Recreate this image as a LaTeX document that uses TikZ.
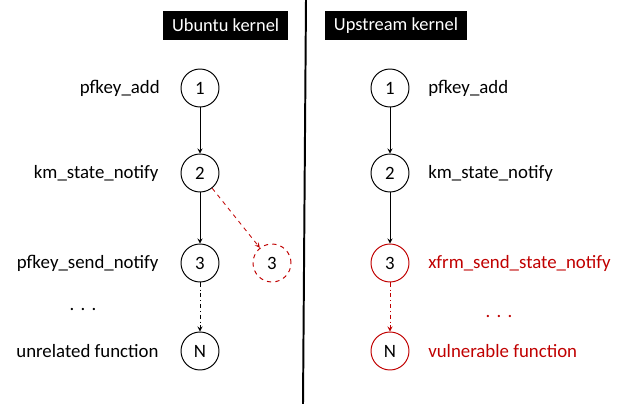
\documentclass[tikz,border=0pt]{standalone}
\usepackage{fontspec}
\setmainfont{Carlito}
\usepackage{xcolor}
\usepackage{tikz}
\usetikzlibrary{positioning,calc}
\usetikzlibrary{shapes.geometric, arrows}
\definecolor{vulnred}{RGB}{192,0,0}
\tikzstyle{fn} = [circle, draw=black, line width=0.7pt, minimum size=0.95cm, inner sep=0pt, font=\fontsize{13.4}{15}\selectfont]
\tikzstyle{lbl} = [font=\fontsize{13.4}{15}\selectfont, inner sep=0pt]
\tikzstyle{title} = [fill=black, text=white, minimum width=3.125cm, minimum height=0.725cm, inner sep=0pt, font=\fontsize{13.1}{15}\selectfont]
\tikzstyle{arrow} = [line width=0.6pt,->,>=stealth]

\begin{document}
\begin{tikzpicture}
\useasboundingbox (0,0) rectangle (15.575,-10.1);
% titles and divider
\node[title] (ubuntu) at (5.64,-0.64) {Ubuntu kernel};
\node[title, minimum width=3.55cm] (upstream) at (9.9,-0.64) {Upstream kernel};
\draw[line width=1.4pt] (7.65,0) -- (7.575,-10.1);
% Ubuntu side
\node[fn] (l1) at (5,-2.2) {1};
\node[fn] (l2) at (5,-4.325) {2};
\node[fn] (l3) at (5,-6.575) {3};
\node[fn] (lN) at (5,-8.775) {N};
\node[fn, draw=vulnred, dashed] (d3) at (6.8,-6.575) {3};
\node[lbl, anchor=east] (t1) at (4,-2.2) {pfkey\_add};
\node[lbl, anchor=east] (t2) at (3.97,-4.325) {km\_state\_notify};
\node[lbl, anchor=east] (t3) at (3.97,-6.575) {pfkey\_send\_notify};
\node[lbl] (tdots) at (2.075,-7.75) {.\,\,.\,\,.};
\node[lbl, anchor=east] (tN) at (3.97,-8.775) {unrelated function};
\draw[arrow] (l1) -- (l2);
\draw[arrow] (l2) -- (l3);
\draw[arrow, dash dot] (l3) -- (lN);
\draw[arrow, dashed, color=vulnred] (l2) -- (d3);
% Upstream side
\node[fn] (r1) at (9.75,-2.2) {1};
\node[fn] (r2) at (9.75,-4.325) {2};
\node[fn, draw=vulnred] (r3) at (9.75,-6.575) {3};
\node[fn, draw=vulnred] (rN) at (9.75,-8.775) {N};
\node[lbl, anchor=west] (s1) at (10.7,-2.2) {pfkey\_add};
\node[lbl, anchor=west] (s2) at (10.7,-4.325) {km\_state\_notify};
\node[lbl, anchor=west, text=vulnred] (s3) at (10.7,-6.575) {xfrm\_send\_state\_notify};
\node[lbl, text=vulnred] (sdots) at (12.475,-7.925) {.\,\,.\,\,.};
\node[lbl, anchor=west, text=vulnred] (sN) at (10.7,-8.775) {vulnerable function};
\draw[arrow] (r1) -- (r2);
\draw[arrow] (r2) -- (r3);
\draw[arrow, dash dot, color=vulnred] (r3) -- (rN);
\end{tikzpicture}
\end{document}
